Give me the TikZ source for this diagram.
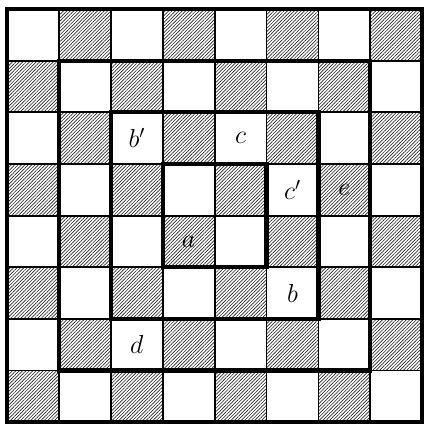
\RequirePackage{fix-cm}
\documentclass[tikz,border=0pt]{standalone}
\usetikzlibrary{patterns.meta}
\tikzset{
  hatch/.style={pattern={Lines[angle=45,distance=2.4pt,line width=0.65pt]},pattern color=black!85},
  thin grid/.style={line width=1.8pt},
  thick frame/.style={line width=4.2pt,line cap=rect},
  lab/.style={font=\fontsize{26}{30}\selectfont,inner sep=0pt}
}
\begin{document}
\begin{tikzpicture}[x=1pt,y=-1pt]
\useasboundingbox (0,0) rectangle (426,424);
\def\xo{7}\def\yo{9}\def\cw{51.9}\def\ch{51.65}
% hatched squares
\foreach \r in {0,...,7}{
  \foreach \c in {0,...,7}{
    \pgfmathparse{int(mod(\r+\c,2))}
    \ifnum\pgfmathresult=1
      \path[hatch] (\xo+\c*\cw,\yo+\r*\ch) rectangle ++(\cw,\ch);
    \fi
  }
}
% thin grid
\foreach \i in {1,...,7}{
  \draw[thin grid] (\xo+\i*\cw,\yo) -- (\xo+\i*\cw,\yo+8*\ch);
  \draw[thin grid] (\xo,\yo+\i*\ch) -- (\xo+8*\cw,\yo+\i*\ch);
}
% thick frames
\draw[thick frame] (\xo,\yo) rectangle (\xo+8*\cw,\yo+8*\ch);
\draw[thick frame] (\xo+1*\cw,\yo+1*\ch) rectangle (\xo+7*\cw,\yo+7*\ch);
\draw[thick frame] (\xo+2*\cw,\yo+2*\ch) rectangle (\xo+6*\cw,\yo+6*\ch);
\draw[thick frame] (\xo+3*\cw,\yo+3*\ch) rectangle (\xo+5*\cw,\yo+5*\ch);
% labels
\node[lab] (bp) at (\xo+2.5*\cw,\yo+2.5*\ch) {$b'$};
\node[lab] (c)  at (\xo+4.5*\cw,\yo+2.5*\ch) {$c$};
\node[lab] (cp) at (\xo+5.5*\cw,\yo+3.5*\ch) {$c'$};
\node[lab] (e)  at (\xo+6.5*\cw,\yo+3.5*\ch) {$e$};
\node[lab] (a)  at (\xo+3.5*\cw,\yo+4.5*\ch) {$a$};
\node[lab] (b)  at (\xo+5.5*\cw,\yo+5.5*\ch) {$b$};
\node[lab] (d)  at (\xo+2.5*\cw,\yo+6.5*\ch) {$d$};
\end{tikzpicture}
\end{document}
